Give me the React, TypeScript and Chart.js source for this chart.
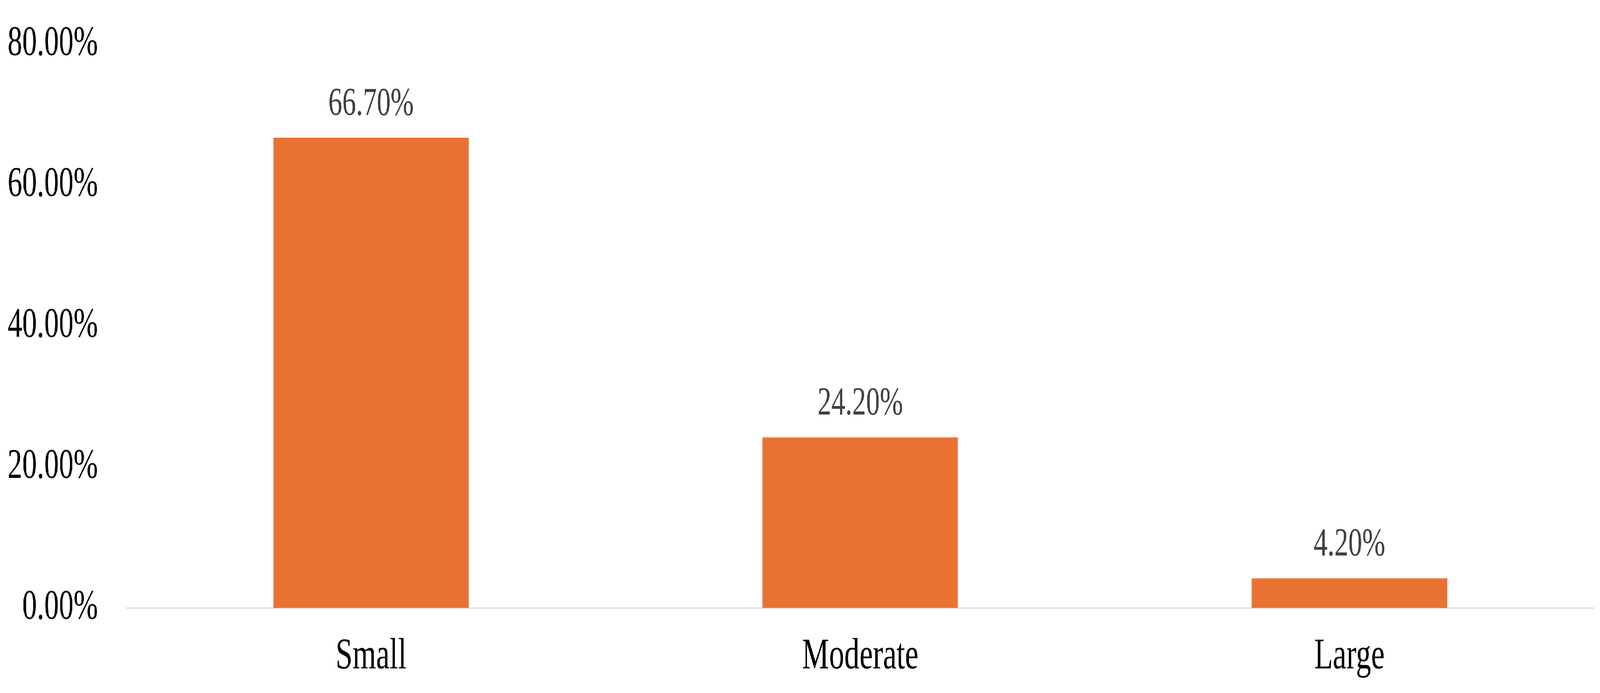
import React, { useEffect, useRef } from "react";
import { Chart, registerables } from "chart.js";

Chart.register(...registerables);

const categories = ["Small", "Moderate", "Large"];
const values = [66.7, 24.2, 4.2];
const dataLabels = ["66.70%", "24.20%", "4.20%"];
const yTicks = [0, 20, 40, 60, 80];

const FONT = "'Liberation Serif', 'Times New Roman', serif";
const DESIGN_W = 5896;
const DESIGN_H = 1775;

const valueLabelPlugin = {
  id: "valueLabels",
  afterDatasetsDraw(chart: any) {
    const ctx = chart.ctx;
    const meta = chart.getDatasetMeta(0);
    ctx.save();
    ctx.font = `102px ${FONT}`;
    ctx.fillStyle = "#404040";
    ctx.textAlign = "center";
    ctx.textBaseline = "alphabetic";
    meta.data.forEach((bar: any, i: number) => {
      ctx.fillText(dataLabels[i], bar.x, bar.y - 58);
    });
    ctx.restore();
  },
};

export default function App() {
  const ref = useRef<HTMLCanvasElement | null>(null);
  const vw = typeof window !== "undefined" ? window.innerWidth || DESIGN_W : DESIGN_W;
  const vh = typeof window !== "undefined" ? window.innerHeight || DESIGN_H : DESIGN_H;
  const sx = vw / DESIGN_W;
  const sy = vh / DESIGN_H;

  useEffect(() => {
    if (!ref.current) return;
    const chart = new Chart(ref.current, {
      type: "bar",
      data: {
        labels: categories,
        datasets: [
          {
            data: values,
            backgroundColor: "#E97132",
            borderColor: "#D9662C",
            borderWidth: 2,
            barPercentage: 0.4,
            categoryPercentage: 1,
          },
        ],
      },
      plugins: [valueLabelPlugin],
      options: {
        animation: false,
        responsive: true,
        maintainAspectRatio: false,
        layout: { padding: { top: 113, right: 22, bottom: 0, left: 0 } },
        plugins: { legend: { display: false }, tooltip: { enabled: false } },
        scales: {
          x: {
            grid: { display: false, drawTicks: false },
            border: { display: true, color: "#D9D9D9", width: 3 },
            ticks: { color: "#000000", font: { family: FONT, size: 112 }, padding: 58 },
            afterFit(scale: any) {
              scale.height = 218;
              scale.paddingLeft = 0;
              scale.paddingRight = 0;
            },
          },
          y: {
            min: 0,
            max: 80,
            afterBuildTicks(scale: any) {
              scale.ticks = yTicks.map((v) => ({ value: v }));
            },
            grid: { display: false, drawTicks: false },
            border: { display: false },
            ticks: {
              color: "#000000",
              font: { family: FONT, size: 108 },
              padding: 105,
              callback: (v: any) => Number(v).toFixed(2) + "%",
            },
            afterFit(scale: any) {
              scale.width = 466;
              scale.paddingTop = 0;
              scale.paddingBottom = 0;
            },
          },
        },
      },
    });
    return () => chart.destroy();
  }, []);
  return (
    <div
      style={{
        position: "fixed",
        left: 0,
        top: 0,
        width: DESIGN_W,
        height: DESIGN_H,
        background: "#fff",
        transform: `scale(${sx}, ${sy})`,
        transformOrigin: "0 0",
      }}
    >
      <canvas ref={ref} />
    </div>
  );
}
